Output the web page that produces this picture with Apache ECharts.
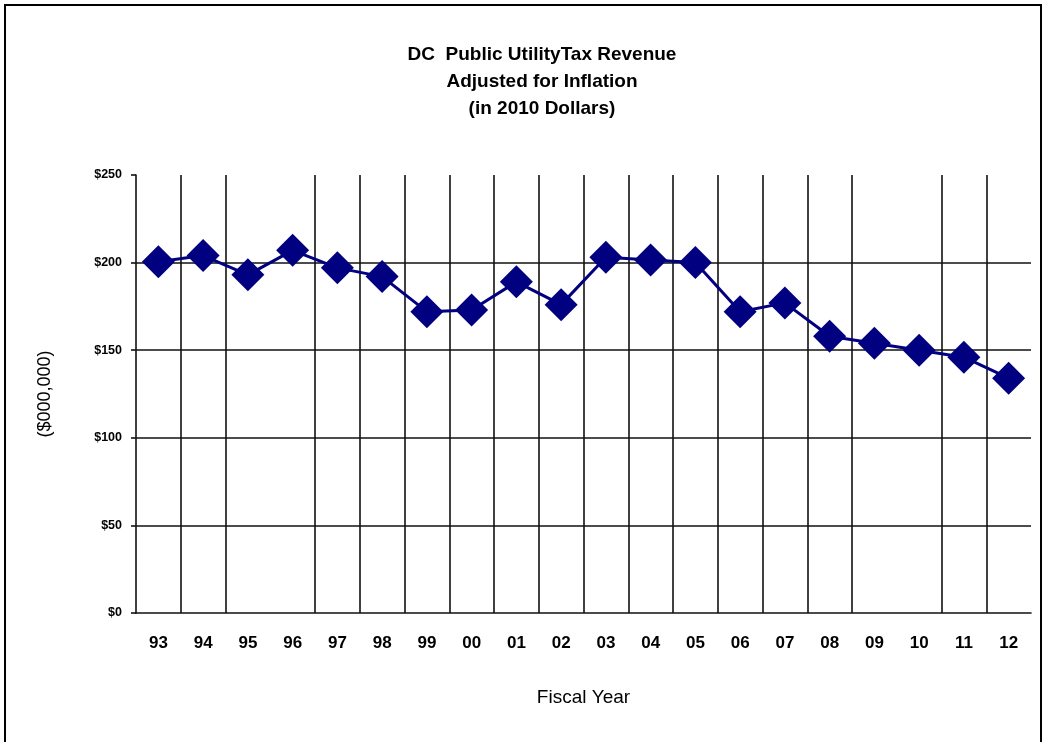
<!DOCTYPE html>
<html>
<head>
<meta charset="utf-8">
<script src="https://cdn.jsdelivr.net/npm/echarts@6/dist/echarts.min.js"></script>
<style>
    html, body { margin: 0; padding: 0; background: #fff; }
    #chart { width: 1049px; height: 742px; }
</style>
</head>
<body>
<div id="chart"></div>
<script>
    // fiscal years and revenue (millions, 2010 dollars)
    const years = ['93', '94', '95', '96', '97', '98', '99', '00', '01', '02',
                   '03', '04', '05', '06', '07', '08', '09', '10', '11', '12'];
    const revenue = [200.5, 204, 193, 207, 197, 192, 172, 173, 189, 176,
                     203, 201.5, 200, 172, 177, 158, 154, 150, 146, 134];
    const yTicks = [0, 50, 100, 150, 200, 250];
    // boundaries where the original drops its gridline
    const skipped = [3, 17];

    const myChart = echarts.init(document.getElementById('chart'));
    const keep = (i) => skipped.indexOf(i) < 0;
    const font = 'Arial, "Liberation Sans", sans-serif';
    const gridColor = '#111';

    const option = {
        animation: false,
        backgroundColor: '#fff',
        title: {
            text: 'DC  Public UtilityTax Revenue\nAdjusted for Inflation\n(in 2010 Dollars)',
            left: 537,
            top: 36,
            textAlign: 'center',
            textStyle: {
                fontFamily: font,
                fontSize: 19,
                fontWeight: 'bold',
                color: '#000',
                lineHeight: 27
            }
        },
        graphic: [{
            type: 'rect',
            shape: { x: 5, y: 5, width: 1036, height: 745 },
            style: { fill: 'none', stroke: '#000', lineWidth: 2 },
            silent: true
        }],
        grid: { left: 136, right: 18, top: 175, bottom: 129 },
        xAxis: {
            type: 'category',
            data: years,
            boundaryGap: true,
            name: 'Fiscal Year',
            nameLocation: 'middle',
            nameGap: 75,
            nameTextStyle: { fontFamily: font, fontSize: 19, color: '#000' },
            axisLine: { lineStyle: { color: gridColor, width: 1.6 } },
            axisTick: { interval: keep, length: 6, lineStyle: { color: gridColor, width: 1.6 } },
            axisLabel: {
                interval: 0,
                margin: 22,
                fontFamily: font,
                fontSize: 17,
                fontWeight: 'bold',
                color: '#000'
            },
            splitLine: {
                show: true,
                interval: keep,
                showMinLine: false,
                showMaxLine: false,
                lineStyle: { color: gridColor, width: 1.6 }
            }
        },
        yAxis: {
            type: 'value',
            min: yTicks[0],
            max: yTicks[yTicks.length - 1],
            interval: yTicks[1] - yTicks[0],
            name: '($000,000)',
            nameLocation: 'middle',
            nameGap: 82,
            nameRotate: 90,
            nameTextStyle: { fontFamily: font, fontSize: 18, color: '#000' },
            axisLine: { show: true, lineStyle: { color: gridColor, width: 1.6 } },
            axisTick: { show: true, length: 5, lineStyle: { color: gridColor, width: 1.6 } },
            axisLabel: {
                margin: 14,
                fontFamily: font,
                fontSize: 12.5,
                fontWeight: 'bold',
                color: '#000',
                formatter: '${value}'
            },
            splitLine: {
                show: true,
                showMinLine: false,
                showMaxLine: false,
                lineStyle: { color: gridColor, width: 1.6 }
            }
        },
        series: [{
            name: 'Revenue',
            type: 'line',
            data: revenue,
            symbol: 'diamond',
            symbolSize: 33,
            itemStyle: { color: '#000080' },
            lineStyle: { color: '#000080', width: 3 }
        }]
    };
    myChart.setOption(option);
</script>
</body>
</html>
